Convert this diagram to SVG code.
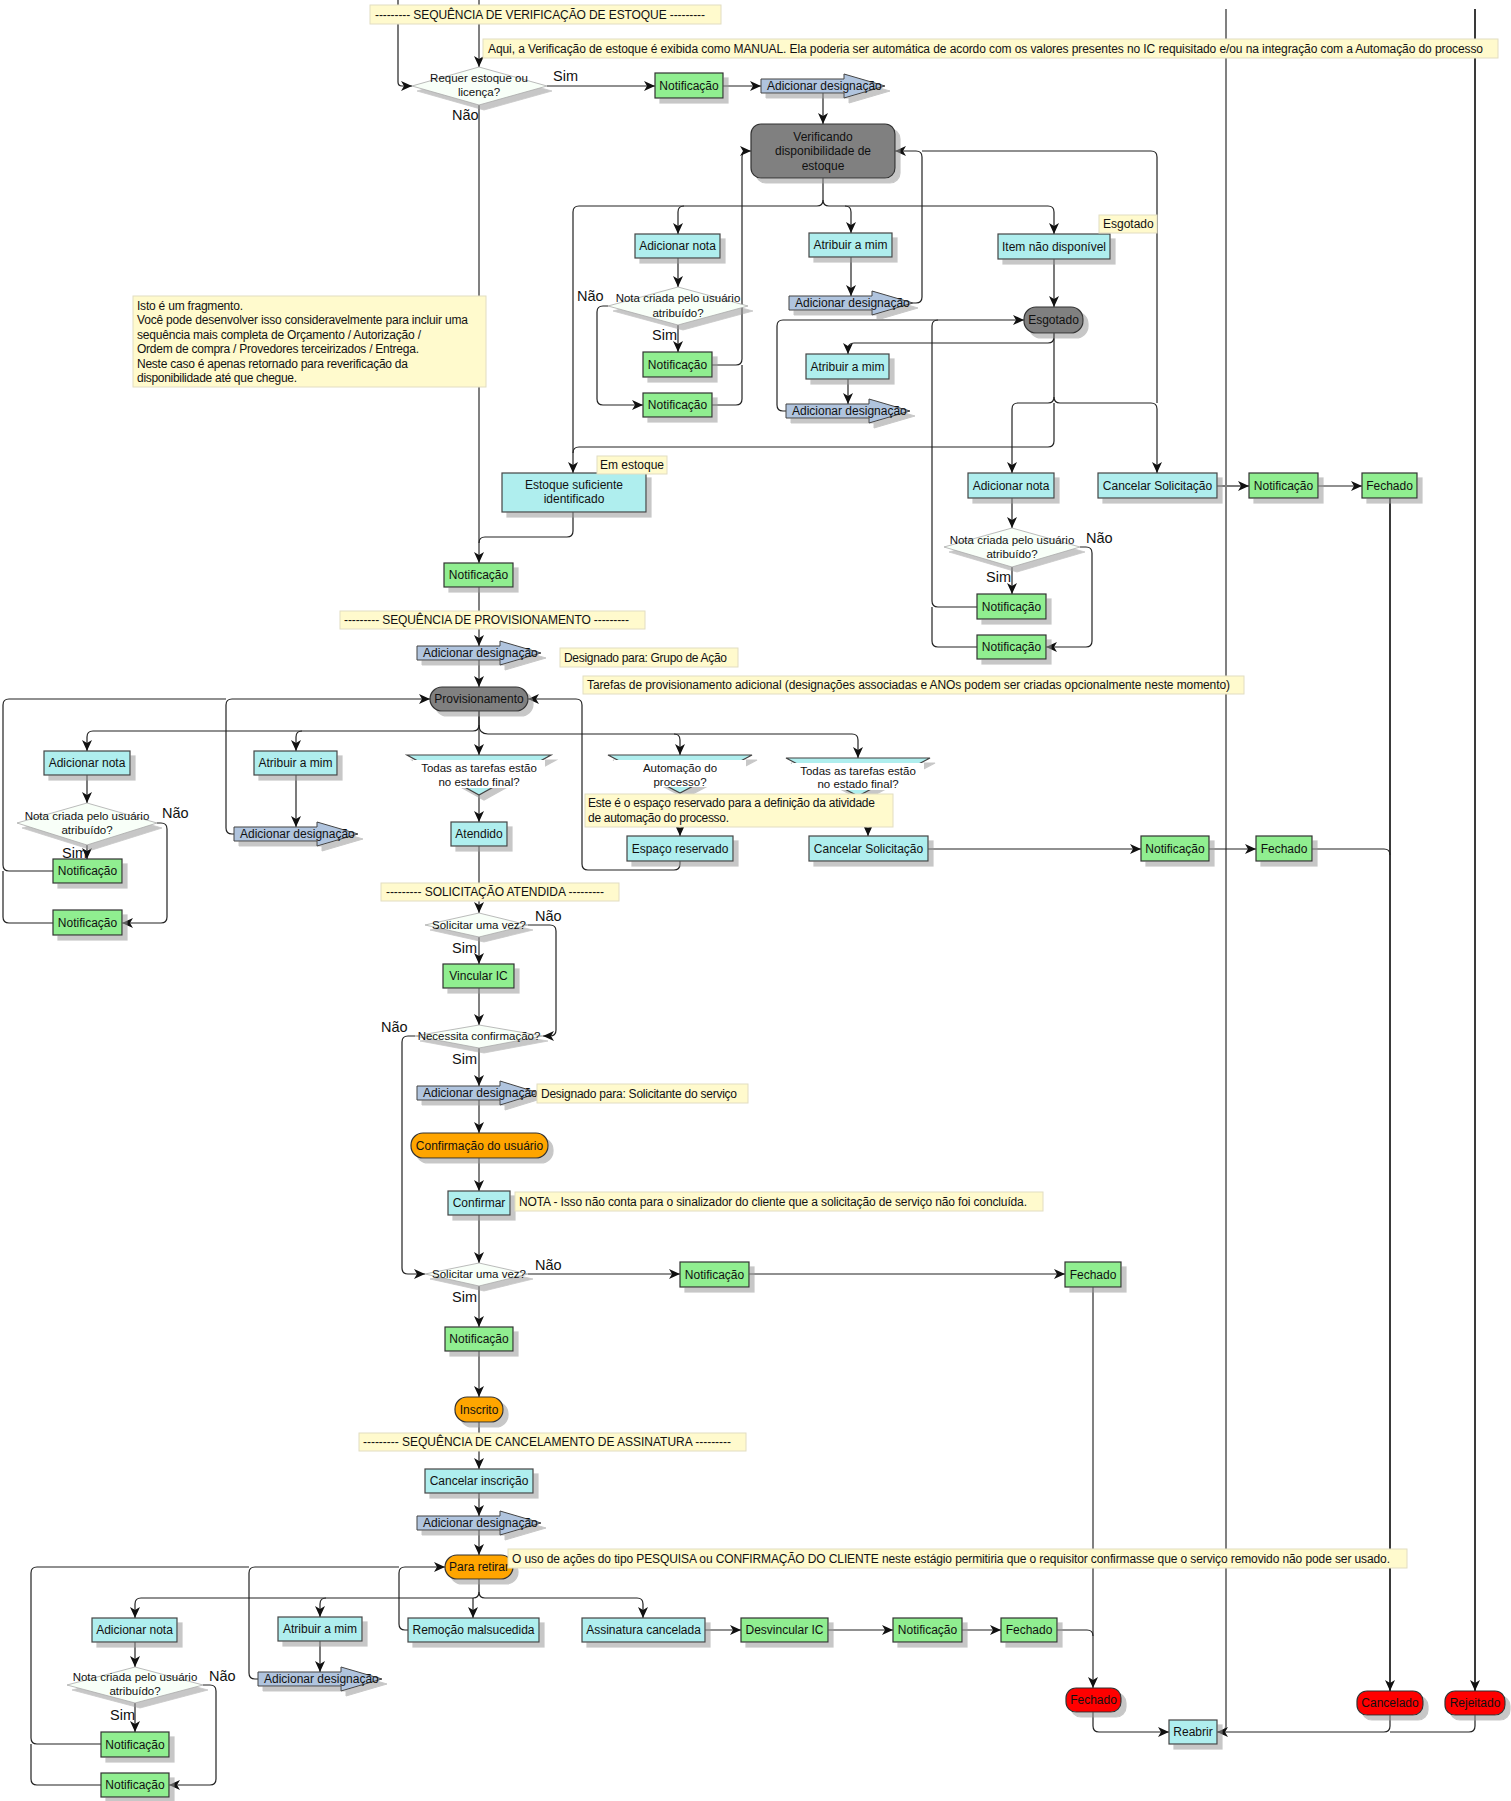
<svg xmlns="http://www.w3.org/2000/svg" width="1511" height="1801" viewBox="0 0 1511 1801">
<style>
.g{fill:#90EE90;stroke:#333;stroke-width:1.2;filter:url(#sh)}
.c{fill:#AFEEEE;stroke:#444;stroke-width:1.2;filter:url(#sh)}
.d{fill:#808080;stroke:#333;stroke-width:1.2;filter:url(#sh)}
.o{fill:#FFA500;stroke:#333;stroke-width:1.2;filter:url(#sh)}
.r{fill:#FF0000;stroke:#333;stroke-width:1.2;filter:url(#sh)}
.b{fill:#B0C4DE;stroke:#444;stroke-width:1;filter:url(#sh)}
.n{fill:#FFFACD;stroke:#e2ddc2;stroke-width:1}
.dm{fill:#f8fff8;stroke:#aaa;stroke-width:0.8;filter:url(#sh)}
.wb{fill:#fff;stroke:none}
text{font-family:"Liberation Sans",Arial,sans-serif;font-size:12px;fill:#111}
.m{text-anchor:middle}
.sm{font-size:11.5px}
.nt{font-size:12px}
.lb{font-size:14.5px}
.k{fill:none;stroke:#222;stroke-width:1.2}
.sp{fill:none;stroke:#808080;stroke-width:2}
.dk{fill:none;stroke:#3a3a3a;stroke-width:2}
</style>
<defs>
<filter id="sh" x="-10%" y="-20%" width="130%" height="160%">
<feOffset in="SourceAlpha" dx="5" dy="5" result="o"/>
<feFlood flood-color="#9a9a9a" flood-opacity="0.55"/>
<feComposite in2="o" operator="in"/>
<feMerge><feMergeNode/><feMergeNode in="SourceGraphic"/></feMerge>
</filter>
<marker id="ar" markerWidth="12" markerHeight="10" refX="11" refY="5" orient="auto" markerUnits="userSpaceOnUse"><path d="M0,0 L11,5 L0,10 L3,5 z" fill="#111"/></marker>
</defs>
<rect width="1511" height="1801" fill="#fff"/>
<g id="connectors">
<path class="sp" d="M479,0 V67" marker-end="url(#ar)"/>
<path class="k" d="M398,0 V82 Q398,86 402,86 H412" marker-end="url(#ar)"/>
<path class="k" d="M547,86 H655" marker-end="url(#ar)"/>
<path class="k" d="M723,86 H761" marker-end="url(#ar)"/>
<path class="k" d="M823,93 V124" marker-end="url(#ar)"/>
<path class="sp" d="M479,105 V563" marker-end="url(#ar)"/>
<path class="k" d="M823,178 V200 Q823,206 817,206 H684 Q678,206 678,212 V234" marker-end="url(#ar)"/>
<path class="k" d="M823,200 Q823,206 829,206 H845 Q851,206 851,212 V233" marker-end="url(#ar)"/>
<path class="k" d="M845,206 H1048 Q1054,206 1054,212 V234" marker-end="url(#ar)"/>
<path class="k" d="M684,206 H579 Q573,206 573,212 V473" marker-end="url(#ar)"/>
<path class="k" d="M851,257 V296" marker-end="url(#ar)"/>
<path class="k" d="M913,303 H916 Q922,303 922,297 V157 Q922,151 916,151 H895" marker-end="url(#ar)"/>
<path class="k" d="M678,258 V287" marker-end="url(#ar)"/>
<path class="k" d="M678,325 V352" marker-end="url(#ar)"/>
<path class="k" d="M608,306 H603 Q597,306 597,312 V399 Q597,405 603,405 H643" marker-end="url(#ar)"/>
<path class="k" d="M712,365 H736 Q742,365 742,359 V157 Q742,151 748,151 H751" marker-end="url(#ar)"/>
<path class="k" d="M712,405 H736 Q742,405 742,399 V365"/>
<path class="k" d="M1054,259 V307" marker-end="url(#ar)"/>
<path class="k" d="M1054,333 V397 Q1054,403 1060,403 H1151 Q1157,403 1157,409 V473" marker-end="url(#ar)"/>
<path class="k" d="M1157,403 V157 Q1157,151 1151,151 H922"/>
<path class="k" d="M1054,397 Q1054,403 1048,403 H1018 Q1012,403 1012,409 V473" marker-end="url(#ar)"/>
<path class="k" d="M1054,403 V441 Q1054,447 1048,447 H579 Q573,447 573,453"/>
<path class="k" d="M1054,333 V337 Q1054,343 1048,343 H854 Q848,343 848,349 V354" marker-end="url(#ar)"/>
<path class="k" d="M848,379 V404" marker-end="url(#ar)"/>
<path class="k" d="M786,411 H783 Q777,411 777,405 V326 Q777,320 783,320 H1024" marker-end="url(#ar)"/>
<path class="k" d="M977,607 H938 Q932,607 932,601 V326 Q932,320 938,320"/>
<path class="k" d="M977,647 H938 Q932,647 932,641 V607"/>
<path class="k" d="M1012,498 V528" marker-end="url(#ar)"/>
<path class="k" d="M1012,567 V594" marker-end="url(#ar)"/>
<path class="k" d="M1080,547 H1086 Q1092,547 1092,553 V641 Q1092,647 1086,647 H1046" marker-end="url(#ar)"/>
<path class="k" d="M1217,486 H1249" marker-end="url(#ar)"/>
<path class="k" d="M1318,486 H1362" marker-end="url(#ar)"/>
<path class="dk" d="M1390,498 V1691" marker-end="url(#ar)"/>
<path class="k" d="M1312,849 H1384 Q1390,849 1390,855"/>
<path class="dk" d="M1475,9 V1691" marker-end="url(#ar)"/>
<path class="sp" d="M1226,9 V1726 Q1226,1732 1220,1732 H1217"/>
<path class="k" d="M1390,1715 V1726 Q1390,1732 1384,1732 H1217" marker-end="url(#ar)"/>
<path class="k" d="M1475,1715 V1726 Q1475,1732 1469,1732 H1390"/>
<path class="k" d="M1093,1712 V1726 Q1093,1732 1099,1732 H1169" marker-end="url(#ar)"/>
<path class="sp" d="M1093,1287 V1688" marker-end="url(#ar)"/>
<path class="k" d="M1057,1630 H1087 Q1093,1630 1093,1636"/>
<path class="k" d="M573,512 V531 Q573,537 567,537 H485 Q479,537 479,543"/>
<path class="sp" d="M479,587 V646" marker-end="url(#ar)"/>
<path class="sp" d="M479,660 V687" marker-end="url(#ar)"/>
<path class="sp" d="M479,711 V755" marker-end="url(#ar)"/>
<path class="k" d="M479,711 V725 Q479,731 473,731 H93 Q87,731 87,737 V751" marker-end="url(#ar)"/>
<path class="k" d="M302,731 Q296,731 296,737 V751" marker-end="url(#ar)"/>
<path class="k" d="M479,725 Q479,734 488,734 H674 Q680,734 680,740 V755" marker-end="url(#ar)"/>
<path class="k" d="M674,734 H852 Q858,734 858,740 V758" marker-end="url(#ar)"/>
<path class="k" d="M296,775 V827" marker-end="url(#ar)"/>
<path class="k" d="M234,834 H232 Q226,834 226,828 V705 Q226,699 232,699 H430" marker-end="url(#ar)"/>
<path class="k" d="M87,775 V803" marker-end="url(#ar)"/>
<path class="k" d="M87,845 V859" marker-end="url(#ar)"/>
<path class="k" d="M157,823 H161 Q167,823 167,829 V917 Q167,923 161,923 H122" marker-end="url(#ar)"/>
<path class="k" d="M53,871 H9 Q3,871 3,865 V705 Q3,699 9,699 H226"/>
<path class="k" d="M53,923 H9 Q3,923 3,917 V871"/>
<path class="sp" d="M479,795 V822" marker-end="url(#ar)"/>
<path class="k" d="M680,793 V836" marker-end="url(#ar)"/>
<path class="k" d="M868,796 V836" marker-end="url(#ar)"/>
<path class="k" d="M680,861 V864 Q680,870 674,870 H588 Q582,870 582,864 V705 Q582,699 576,699 H528" marker-end="url(#ar)"/>
<path class="k" d="M928,849 H1141" marker-end="url(#ar)"/>
<path class="k" d="M1209,849 H1256" marker-end="url(#ar)"/>
<path class="sp" d="M479,846 V913" marker-end="url(#ar)"/>
<path class="sp" d="M479,937 V964" marker-end="url(#ar)"/>
<path class="k" d="M528,925 H550 Q556,925 556,931 V1030 Q556,1036 550,1036 H543" marker-end="url(#ar)"/>
<path class="sp" d="M479,988 V1025" marker-end="url(#ar)"/>
<path class="sp" d="M479,1048 V1086" marker-end="url(#ar)"/>
<path class="k" d="M415,1036 H408 Q402,1036 402,1042 V1268 Q402,1274 408,1274 H425" marker-end="url(#ar)"/>
<path class="sp" d="M479,1100 V1133" marker-end="url(#ar)"/>
<path class="sp" d="M479,1158 V1191" marker-end="url(#ar)"/>
<path class="sp" d="M479,1215 V1263" marker-end="url(#ar)"/>
<path class="k" d="M528,1274 H680" marker-end="url(#ar)"/>
<path class="k" d="M749,1274 H1065" marker-end="url(#ar)"/>
<path class="sp" d="M479,1286 V1327" marker-end="url(#ar)"/>
<path class="sp" d="M479,1351 V1397" marker-end="url(#ar)"/>
<path class="sp" d="M479,1422 V1469" marker-end="url(#ar)"/>
<path class="sp" d="M479,1493 V1516" marker-end="url(#ar)"/>
<path class="sp" d="M479,1530 V1555" marker-end="url(#ar)"/>
<path class="k" d="M479,1579 V1592 Q479,1598 473,1598 H141 Q135,1598 135,1604 V1618" marker-end="url(#ar)"/>
<path class="k" d="M326,1598 Q320,1598 320,1604 V1617" marker-end="url(#ar)"/>
<path class="k" d="M473,1598 V1618" marker-end="url(#ar)"/>
<path class="k" d="M479,1592 Q479,1598 485,1598 H637 Q643,1598 643,1604 V1618" marker-end="url(#ar)"/>
<path class="k" d="M408,1630 H405 Q399,1630 399,1624 V1573 Q399,1567 405,1567 H445" marker-end="url(#ar)"/>
<path class="k" d="M320,1641 V1672" marker-end="url(#ar)"/>
<path class="k" d="M258,1679 H255 Q249,1679 249,1673 V1573 Q249,1567 255,1567 H399"/>
<path class="k" d="M135,1642 V1667" marker-end="url(#ar)"/>
<path class="k" d="M135,1703 V1732" marker-end="url(#ar)"/>
<path class="k" d="M203,1685 H210 Q216,1685 216,1691 V1779 Q216,1785 210,1785 H169" marker-end="url(#ar)"/>
<path class="k" d="M101,1744 H37 Q31,1744 31,1738 V1573 Q31,1567 37,1567 H249"/>
<path class="k" d="M101,1785 H37 Q31,1785 31,1779 V1744"/>
<path class="k" d="M705,1630 H741" marker-end="url(#ar)"/>
<path class="k" d="M828,1630 H893" marker-end="url(#ar)"/>
<path class="k" d="M962,1630 H1001" marker-end="url(#ar)"/>
</g>
<g id="d-requer"><polygon class="dm" points="479,67 547,86 479,105 412,86"/><text class="m sm" x="479" y="82">Requer estoque ou</text><text class="m sm" x="479" y="96">licença?</text></g>
<g id="n-notif1"><rect class="g" x="655" y="73" width="68" height="25"/><text class="m" x="689" y="90">Notificação</text></g>
<g id="n-desig1"><polygon class="b" points="761,79 844,79 844,74 885,86 844,98 844,93 761,93"/><text x="767" y="90">Adicionar designação</text></g>
<g id="n-verif"><rect class="d" x="751" y="124" width="144" height="54" rx="10"/><text class="m" x="823" y="141">Verificando</text><text class="m" x="823" y="155">disponibilidade de</text><text class="m" x="823" y="170">estoque</text></g>
<g id="n-nota1"><rect class="c" x="635" y="234" width="85" height="24"/><text class="m" x="677.5" y="250">Adicionar nota</text></g>
<g id="n-atrib1"><rect class="c" x="809" y="233" width="83" height="24"/><text class="m" x="850.5" y="249">Atribuir a mim</text></g>
<g id="n-item"><rect class="c" x="998" y="234" width="112" height="25"/><text class="m" x="1054" y="250.5">Item não disponível</text></g>
<g id="n-desig2"><polygon class="b" points="789,296 872,296 872,291 913,303 872,315 872,310 789,310"/><text x="795" y="307">Adicionar designação</text></g>
<g id="d-nota1"><polygon class="dm" points="678,287 748,306 678,325 608,306"/><text class="m sm" x="678" y="302">Nota criada pelo usuário</text><text class="m sm" x="678" y="317">atribuído?</text></g>
<g id="n-notif2"><rect class="g" x="643" y="352" width="69" height="25"/><text class="m" x="677.5" y="368.5">Notificação</text></g>
<g id="n-notif3"><rect class="g" x="643" y="393" width="69" height="24"/><text class="m" x="677.5" y="409">Notificação</text></g>
<g id="n-esgotado"><rect class="d" x="1024" y="307" width="59" height="26" rx="12"/><text class="m" x="1053.5" y="324">Esgotado</text></g>
<g id="n-atrib2"><rect class="c" x="806" y="354" width="83" height="25"/><text class="m" x="847.5" y="370.5">Atribuir a mim</text></g>
<g id="n-desig3"><polygon class="b" points="786,404 869,404 869,399 910,411 869,423 869,418 786,418"/><text x="792" y="415">Adicionar designação</text></g>
<g id="n-estoque"><rect class="c" x="502" y="473" width="144" height="39"/><text class="m" x="574" y="489">Estoque suficiente</text><text class="m" x="574" y="503">identificado</text></g>
<g id="n-nota2"><rect class="c" x="968" y="473" width="86" height="25"/><text class="m" x="1011" y="489.5">Adicionar nota</text></g>
<g id="n-cancel1"><rect class="c" x="1098" y="473" width="119" height="25"/><text class="m" x="1157.5" y="489.5">Cancelar Solicitação</text></g>
<g id="n-notif4"><rect class="g" x="1249" y="473" width="69" height="25"/><text class="m" x="1283.5" y="489.5">Notificação</text></g>
<g id="n-fech1"><rect class="g" x="1362" y="473" width="55" height="25"/><text class="m" x="1389.5" y="489.5">Fechado</text></g>
<g id="d-nota2"><polygon class="dm" points="1012,528 1080,547 1012,567 944,547"/><text class="m sm" x="1012" y="544">Nota criada pelo usuário</text><text class="m sm" x="1012" y="558">atribuído?</text></g>
<g id="n-notif5"><rect class="g" x="977" y="594" width="69" height="25"/><text class="m" x="1011.5" y="610.5">Notificação</text></g>
<g id="n-notif6"><rect class="g" x="977" y="635" width="69" height="24"/><text class="m" x="1011.5" y="651">Notificação</text></g>
<g id="n-notif7"><rect class="g" x="444" y="563" width="69" height="24"/><text class="m" x="478.5" y="579">Notificação</text></g>
<g id="n-desig4"><polygon class="b" points="417,646 500,646 500,641 541,653 500,665 500,660 417,660"/><text x="423" y="657">Adicionar designação</text></g>
<g id="n-prov"><rect class="d" x="430" y="687" width="98" height="24" rx="12"/><text class="m" x="479" y="703">Provisionamento</text></g>
<g id="n-nota3"><rect class="c" x="44" y="751" width="86" height="24"/><text class="m" x="87" y="767">Adicionar nota</text></g>
<g id="n-atrib3"><rect class="c" x="254" y="751" width="83" height="24"/><text class="m" x="295.5" y="767">Atribuir a mim</text></g>
<g id="t-todas1"><polygon class="c" points="407,755 551,755 479,795"/><rect class="wb" x="413" y="760" width="132" height="28"/><text class="m sm" x="479" y="772">Todas as tarefas estão</text><text class="m sm" x="479" y="786">no estado final?</text></g>
<g id="t-autom"><polygon class="c" points="608,755 752,755 680,793"/><rect class="wb" x="614" y="760" width="132" height="27"/><text class="m sm" x="680" y="772">Automação do</text><text class="m sm" x="680" y="786">processo?</text></g>
<g id="t-todas2"><polygon class="c" points="786,758 930,758 858,796"/><rect class="wb" x="792" y="763" width="132" height="27"/><text class="m sm" x="858" y="775">Todas as tarefas estão</text><text class="m sm" x="858" y="788">no estado final?</text></g>
<g id="n-desig5"><polygon class="b" points="234,827 317,827 317,822 358,834 317,846 317,841 234,841"/><text x="240" y="838">Adicionar designação</text></g>
<g id="d-nota3"><polygon class="dm" points="87,803 157,823 87,845 17,823"/><text class="m sm" x="87" y="820">Nota criada pelo usuário</text><text class="m sm" x="87" y="834">atribuído?</text></g>
<g id="n-notif8"><rect class="g" x="53" y="859" width="69" height="24"/><text class="m" x="87.5" y="875">Notificação</text></g>
<g id="n-notif9"><rect class="g" x="53" y="910" width="69" height="25"/><text class="m" x="87.5" y="926.5">Notificação</text></g>
<g id="n-atendido"><rect class="c" x="451" y="822" width="56" height="24"/><text class="m" x="479" y="838">Atendido</text></g>
<g id="n-espaco"><rect class="c" x="627" y="836" width="106" height="25"/><text class="m" x="680" y="852.5">Espaço reservado</text></g>
<g id="n-cancel2"><rect class="c" x="809" y="836" width="119" height="25"/><text class="m" x="868.5" y="852.5">Cancelar Solicitação</text></g>
<g id="n-notif10"><rect class="g" x="1141" y="836" width="68" height="25"/><text class="m" x="1175" y="852.5">Notificação</text></g>
<g id="n-fech2"><rect class="g" x="1256" y="836" width="56" height="25"/><text class="m" x="1284" y="852.5">Fechado</text></g>
<g id="d-solic1"><polygon class="dm" points="479,913 528,925 479,937 425,925"/><text class="m sm" x="479" y="929">Solicitar uma vez?</text></g>
<g id="n-vincular"><rect class="g" x="443" y="964" width="71" height="24"/><text class="m" x="478.5" y="980">Vincular IC</text></g>
<g id="d-necess"><polygon class="dm" points="479,1025 543,1036 479,1048 415,1036"/><text class="m sm" x="479" y="1040">Necessita confirmação?</text></g>
<g id="n-desig6"><polygon class="b" points="417,1086 500,1086 500,1081 539,1093 500,1105 500,1100 417,1100"/><text x="423" y="1097">Adicionar designação</text></g>
<g id="n-confuser"><rect class="o" x="411" y="1133" width="137" height="25" rx="12"/><text class="m" x="479.5" y="1149.5">Confirmação do usuário</text></g>
<g id="n-confirmar"><rect class="c" x="448" y="1191" width="62" height="24"/><text class="m" x="479" y="1207">Confirmar</text></g>
<g id="d-solic2"><polygon class="dm" points="479,1263 528,1274 479,1286 425,1274"/><text class="m sm" x="479" y="1278">Solicitar uma vez?</text></g>
<g id="n-notif11"><rect class="g" x="680" y="1262" width="69" height="25"/><text class="m" x="714.5" y="1278.5">Notificação</text></g>
<g id="n-fech3"><rect class="g" x="1065" y="1262" width="56" height="25"/><text class="m" x="1093" y="1278.5">Fechado</text></g>
<g id="n-notif12"><rect class="g" x="445" y="1327" width="68" height="24"/><text class="m" x="479" y="1343">Notificação</text></g>
<g id="n-inscrito"><rect class="o" x="455" y="1397" width="48" height="25" rx="12"/><text class="m" x="479" y="1413.5">Inscrito</text></g>
<g id="n-cancinsc"><rect class="c" x="425" y="1469" width="108" height="24"/><text class="m" x="479" y="1485">Cancelar inscrição</text></g>
<g id="n-desig7"><polygon class="b" points="417,1516 500,1516 500,1511 541,1523 500,1535 500,1530 417,1530"/><text x="423" y="1527">Adicionar designação</text></g>
<g id="n-retirar"><rect class="o" x="445" y="1555" width="68" height="24" rx="12"/><text class="m" x="479" y="1571">Para retirar</text></g>
<g id="n-nota4"><rect class="c" x="92" y="1618" width="85" height="24"/><text class="m" x="134.5" y="1634">Adicionar nota</text></g>
<g id="n-atrib4"><rect class="c" x="278" y="1617" width="84" height="24"/><text class="m" x="320" y="1633">Atribuir a mim</text></g>
<g id="n-remocao"><rect class="c" x="408" y="1618" width="131" height="24"/><text class="m" x="473.5" y="1634">Remoção malsucedida</text></g>
<g id="n-assin"><rect class="c" x="582" y="1618" width="123" height="24"/><text class="m" x="643.5" y="1634">Assinatura cancelada</text></g>
<g id="n-desvinc"><rect class="g" x="741" y="1618" width="87" height="24"/><text class="m" x="784.5" y="1634">Desvincular IC</text></g>
<g id="n-notif13"><rect class="g" x="893" y="1618" width="69" height="24"/><text class="m" x="927.5" y="1634">Notificação</text></g>
<g id="n-fech4"><rect class="g" x="1001" y="1618" width="56" height="24"/><text class="m" x="1029" y="1634">Fechado</text></g>
<g id="n-desig8"><polygon class="b" points="258,1672 341,1672 341,1667 382,1679 341,1691 341,1686 258,1686"/><text x="264" y="1683">Adicionar designação</text></g>
<g id="d-nota4"><polygon class="dm" points="135,1667 203,1685 135,1703 67,1685"/><text class="m sm" x="135" y="1681">Nota criada pelo usuário</text><text class="m sm" x="135" y="1695">atribuído?</text></g>
<g id="n-notif14"><rect class="g" x="101" y="1732" width="68" height="25"/><text class="m" x="135" y="1748.5">Notificação</text></g>
<g id="n-notif15"><rect class="g" x="101" y="1773" width="68" height="24"/><text class="m" x="135" y="1789">Notificação</text></g>
<g id="n-fechado-r"><rect class="r" x="1066" y="1688" width="55" height="24" rx="10"/><text class="m" x="1093.5" y="1704">Fechado</text></g>
<g id="n-cancelado"><rect class="r" x="1357" y="1691" width="66" height="24" rx="10"/><text class="m" x="1390" y="1707">Cancelado</text></g>
<g id="n-rejeitado"><rect class="r" x="1445" y="1691" width="60" height="24" rx="10"/><text class="m" x="1475" y="1707">Rejeitado</text></g>
<g id="n-reabrir"><rect class="c" x="1169" y="1720" width="48" height="24"/><text class="m" x="1193" y="1736">Reabrir</text></g>
<g id="labels">
<text class="lb" x="553" y="81">Sim</text>
<text class="lb" x="452" y="120">Não</text>
<text class="lb" x="577" y="301">Não</text>
<text class="lb" x="652" y="340">Sim</text>
<text class="lb" x="1086" y="543">Não</text>
<text class="lb" x="986" y="582">Sim</text>
<text class="lb" x="162" y="818">Não</text>
<text class="lb" x="62" y="858">Sim</text>
<text class="lb" x="535" y="921">Não</text>
<text class="lb" x="452" y="953">Sim</text>
<text class="lb" x="381" y="1032">Não</text>
<text class="lb" x="452" y="1064">Sim</text>
<text class="lb" x="535" y="1270">Não</text>
<text class="lb" x="452" y="1302">Sim</text>
<text class="lb" x="209" y="1681">Não</text>
<text class="lb" x="110" y="1720">Sim</text>
</g>
<g id="notes">
<g id="note-hdr1"><rect class="n" x="370" y="5" width="351" height="19"/><text class="nt" x="375" y="19" textLength="330" lengthAdjust="spacing">--------- SEQUÊNCIA DE VERIFICAÇÃO DE ESTOQUE ---------</text></g>
<g id="note-aqui"><rect class="n" x="483" y="39" width="1015" height="19"/><text class="nt" x="488" y="53" textLength="995" lengthAdjust="spacing">Aqui, a Verificação de estoque é exibida como MANUAL. Ela poderia ser automática de acordo com os valores presentes no IC requisitado e/ou na integração com a Automação do processo</text></g>
<g id="note-frag"><rect class="n" x="133" y="296" width="353" height="91"/>
<text class="nt" x="137" y="309.5" textLength="106" lengthAdjust="spacing">Isto é um fragmento.</text>
<text class="nt" x="137" y="324" textLength="331" lengthAdjust="spacing">Você pode desenvolver isso consideravelmente para incluir uma</text>
<text class="nt" x="137" y="338.5" textLength="284" lengthAdjust="spacing">sequência mais completa de Orçamento / Autorização /</text>
<text class="nt" x="137" y="353" textLength="282" lengthAdjust="spacing">Ordem de compra / Provedores terceirizados / Entrega.</text>
<text class="nt" x="137" y="367.5" textLength="271" lengthAdjust="spacing">Neste caso é apenas retornado para reverificação da</text>
<text class="nt" x="137" y="382" textLength="160" lengthAdjust="spacing">disponibilidade até que chegue.</text></g>
<g id="note-esg"><rect class="n" x="1099" y="215" width="58" height="18"/><text class="nt" x="1103" y="228">Esgotado</text></g>
<g id="note-emest"><rect class="n" x="597" y="456" width="70" height="18"/><text class="nt" x="600" y="469">Em estoque</text></g>
<g id="note-hdr2"><rect class="n" x="340" y="611" width="305" height="18"/><text class="nt" x="344" y="624" textLength="285" lengthAdjust="spacing">--------- SEQUÊNCIA DE PROVISIONAMENTO ---------</text></g>
<g id="note-desig1"><rect class="n" x="560" y="648" width="178" height="19"/><text class="nt" x="564" y="662" textLength="163" lengthAdjust="spacing">Designado para: Grupo de Ação</text></g>
<g id="note-tarefas"><rect class="n" x="583" y="676" width="661" height="18"/><text class="nt" x="587" y="689" textLength="643" lengthAdjust="spacing">Tarefas de provisionamento adicional (designações associadas e ANOs podem ser criadas opcionalmente neste momento)</text></g>
<g id="note-espaco"><rect class="n" x="585" y="794" width="308" height="33"/><text class="nt" x="588" y="807" textLength="287" lengthAdjust="spacing">Este é o espaço reservado para a definição da atividade</text><text class="nt" x="588" y="822" textLength="141" lengthAdjust="spacing">de automação do processo.</text></g>
<g id="note-hdr3"><rect class="n" x="381" y="883" width="238" height="18"/><text class="nt" x="386" y="896" textLength="218" lengthAdjust="spacing">--------- SOLICITAÇÃO ATENDIDA ---------</text></g>
<g id="note-desig2"><rect class="n" x="537" y="1084" width="211" height="19"/><text class="nt" x="541" y="1098" textLength="196" lengthAdjust="spacing">Designado para: Solicitante do serviço</text></g>
<g id="note-nota"><rect class="n" x="515" y="1192" width="528" height="19"/><text class="nt" x="519" y="1206" textLength="508" lengthAdjust="spacing">NOTA - Isso não conta para o sinalizador do cliente que a solicitação de serviço não foi concluída.</text></g>
<g id="note-hdr4"><rect class="n" x="359" y="1433" width="387" height="18"/><text class="nt" x="363" y="1446" textLength="368" lengthAdjust="spacing">--------- SEQUÊNCIA DE CANCELAMENTO DE ASSINATURA ---------</text></g>
<g id="note-uso"><rect class="n" x="508" y="1549" width="899" height="19"/><text class="nt" x="512" y="1563" textLength="878" lengthAdjust="spacing">O uso de ações do tipo PESQUISA ou CONFIRMAÇÃO DO CLIENTE neste estágio permitiria que o requisitor confirmasse que o serviço removido não pode ser usado.</text></g>
</g>
</svg>
